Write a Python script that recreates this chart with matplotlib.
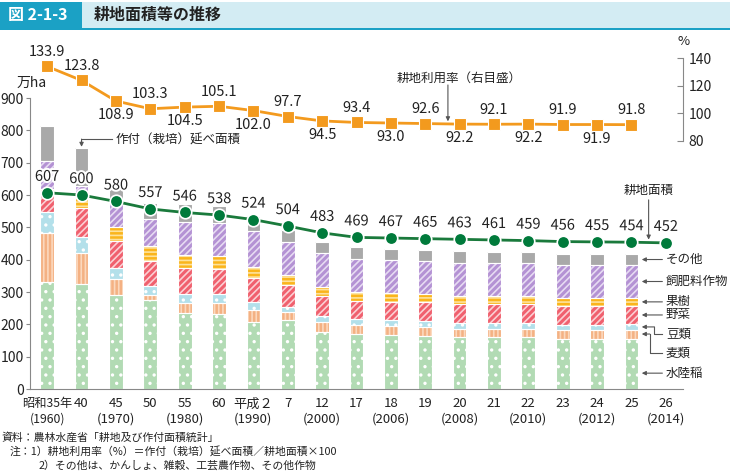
import matplotlib
matplotlib.use('Agg')
import matplotlib.pyplot as plt
import matplotlib.patheffects as pe
from matplotlib.patches import Rectangle
import numpy as np

plt.rcParams['font.family'] = ['Noto Sans CJK JP', 'DejaVu Sans']
plt.rcParams['hatch.linewidth'] = 1.2

# ---- data (万ha, %) ----
xlabels = ['昭和35年\n(1960)', '40', '45\n(1970)', '50', '55\n(1980)', '60',
           '平成２\n(1990)', '7', '12\n(2000)', '17', '18\n(2006)', '19',
           '20\n(2008)', '21', '22\n(2010)', '23', '24\n(2012)', '25', '26\n(2014)']

rice   = [330, 325, 290, 275, 235, 232, 207, 212, 176, 169, 166, 165, 160, 160, 160, 155, 156, 156]
wheat  = [153,  96,  50,  17,  31,  34,  37,  26,  30,  28,  29,  28,  27,  27,  27,  29,  28,  28]
beans  = [ 65,  49,  34,  26,  29,  28,  24,  15,  19,  20,  19,  18,  17,  17,  17,  15,  15,  16]
veg    = [ 55,  89,  85,  77,  78,  77,  76,  68,  62,  56,  56,  58,  59,  59,  59,  59,  59,  58]
fruit  = [ 17,  32,  43,  47,  40,  40,  34,  31,  29,  26,  27,  26,  26,  26,  24,  22,  22,  23]
feed   = [ 85,  36,  73,  85, 104, 103, 110, 102, 105, 104, 102, 101, 102, 101, 102, 105, 104, 103]
other  = [108, 117,  57,  48,  54,  51,  47,  38,  35,  35,  35,  35,  36,  35,  34,  34,  34,  33]

area  = [607, 600, 580, 557, 546, 538, 524, 504, 483, 469, 467, 465, 463, 461, 459, 456, 455, 454, 452]
ratio = [133.9, 123.8, 108.9, 103.3, 104.5, 105.1, 102.0, 97.7, 94.5, 93.4,
         93.0, 92.6, 92.2, 92.1, 92.2, 91.9, 91.9, 91.8]

seg_names = ['水陸稲', '麦類', '豆類', '野菜', '果樹', '飼肥料作物', 'その他']
seg_data = [rice, wheat, beans, veg, fruit, feed, other]
seg_colors = ['#b2dbb4', '#f4b183', '#b3e0ea', '#f0606e', '#fab51c', '#b492d4', '#a9a9a9']
seg_hatch = ['..', '||||', '..', '/////', '----', '/////', None]
seg_hcolor = ['white', '#fbd8bd', 'white', '#fbd0d4', '#fde29c', '#e6dbf2', 'white']

W, H = 730, 473
fig = plt.figure(figsize=(W / 100, H / 100), dpi=100)
txt = '#222222'

# header
fig.patches.append(Rectangle((0, 1 - 28 / H), 1, 26 / H, transform=fig.transFigure,
                             facecolor='#d3ecf3', edgecolor='none'))
fig.patches.append(Rectangle((0, 1 - 28 / H), 82 / W, 26 / H, transform=fig.transFigure,
                             facecolor='#1ba1c5', edgecolor='none'))
fig.patches.append(Rectangle((0, 1 - 30 / H), 1, 2 / H, transform=fig.transFigure,
                             facecolor='#1ba1c5', edgecolor='none'))
fig.text(8 / W, 1 - 15 / H, '図 2-1-3', color='white', fontsize=11.5, fontweight='bold', va='center')
fig.text(94 / W, 1 - 15 / H, '耕地面積等の推移', color=txt, fontsize=11.5, fontweight='bold', va='center')

ax_bottom, ax_top = 389, 40
ax = fig.add_axes([30 / W, 1 - ax_bottom / H, 653 / W, (ax_bottom - ax_top) / H])
ax2 = ax.twinx()

xb = np.arange(len(rice))
xa = np.arange(len(area))
xr = np.arange(len(ratio))

bottom = np.zeros(len(rice))
for vals, col, hat, hc in zip(seg_data, seg_colors, seg_hatch, seg_hcolor):
    v = np.array(vals, dtype=float)
    ax.bar(xb, v, 0.4, bottom=bottom, color=col, hatch=hat, edgecolor=hc, linewidth=0, zorder=2)
    ax.bar(xb, v, 0.4, bottom=bottom, color='none', edgecolor='white', linewidth=0.8, zorder=2.1)
    bottom += v

ax.set_ylim(0, (ax_bottom - ax_top) / 0.3233)
ax.set_xlim(-0.5, 18.5)
ax.set_yticks(range(0, 1000, 100))
ax.spines['left'].set_bounds(0, 900)
for s in ['top', 'right']:
    ax.spines[s].set_visible(False)
ax.spines['left'].set_color('#888888')
ax.spines['bottom'].set_color('#888888')
ax.tick_params(axis='y', colors='#888888', labelcolor=txt, labelsize=10, length=3, pad=1.5)
ax.set_xticks(xa)
ax.set_xticklabels(xlabels, fontsize=9.5, color=txt, linespacing=1.25)
ax.get_xticklabels()[0].set_fontsize(8.8)
ax.tick_params(axis='x', length=0, pad=6)
ax.text(-0.9, 925, '万ha', fontsize=10, ha='left', va='bottom', color=txt)

# 耕地面積 line
ax.plot(xa, area, color='#1a7a3c', lw=2, marker='o', ms=9, mfc='#007a3b',
        mec='white', mew=1.2, zorder=5, clip_on=False)
halo = [pe.withStroke(linewidth=3, foreground='white')]
for x, v in zip(xa, area):
    ax.annotate(str(v), (x, v), xytext=(0, 11.5), textcoords='offset points', ha='center',
                va='center', fontsize=10.5, color=txt, path_effects=halo, zorder=6)

# 耕地利用率 line (right axis)
ax2.set_ylim(80 - (ax_bottom - 141) / 1.383, 140 + (58 - ax_top) / 1.383)
ax2.plot(xr, ratio, color='#f39a1e', lw=2, marker='s', ms=8, mfc='#f39a1e',
         mec='white', mew=0.8, zorder=5)
for i, (x, v) in enumerate(zip(xr, ratio)):
    above = i in (0, 1, 3, 5, 7) or (i >= 9 and i % 2 == 1)
    ax2.annotate(f'{v:.1f}', (x, v), xytext=(0, 10.3 if above else -10.3), textcoords='offset points',
                 ha='center', va='center', fontsize=10.5, color=txt)
ax2.set_yticks([80, 100, 120, 140])
ax2.spines['right'].set_bounds(80, 140)
for s in ['top', 'left', 'bottom']:
    ax2.spines[s].set_visible(False)
ax2.spines['right'].set_color('#888888')
ax2.tick_params(axis='y', direction='in', length=4, colors='#888888', labelcolor=txt,
                labelsize=10, pad=4)
ax2.text(18.35, 147, '%', fontsize=9.5, ha='left', va='bottom', color=txt)

# annotations
gc = '#555555'
arrow = dict(arrowstyle='-|>', color=gc, lw=0.8, mutation_scale=6, shrinkA=0, shrinkB=0)
top1 = sum(s[1] for s in seg_data)
ax.plot([1.9, 1.0], [773, 773], color=gc, lw=0.8, zorder=4)
ax.annotate('', xy=(1.0, top1 + 5), xytext=(1.0, 773), arrowprops=arrow)
ax.text(1.98, 771, '作付（栽培）延べ面積', fontsize=9, va='center', ha='left', color=txt)

ax2.text(11.98, 125.5, '耕地利用率（右目盛）', fontsize=9, ha='center', va='center', color=txt)
ax2.annotate('', xy=(11.66, 94.2), xytext=(11.66, 120.5), arrowprops=arrow)

ax.text(17.5, 615, '耕地面積', fontsize=9, ha='center', va='center', color=txt)
ax.annotate('', xy=(17.5, 462), xytext=(17.5, 585), arrowprops=arrow)

# segment labels on the right
last = [s[-1] for s in seg_data]
cum = np.cumsum([0] + last)
mids = [(cum[i] + cum[i + 1]) / 2 for i in range(len(last))]
tip_x, tail_x, text_x = 17.3, 17.9, 18.0
label_y = [49, 111, 170, mids[3], mids[4], mids[5], mids[6]]
bend_x = {1: 17.53, 2: 17.67}
for i, name in enumerate(seg_names):
    if i in bend_x:
        bx = bend_x[i]
        ax.plot([tail_x, bx, bx], [label_y[i], label_y[i], mids[i]], color=gc, lw=0.8,
                clip_on=False, zorder=4)
        ax.annotate('', xy=(tip_x, mids[i]), xytext=(bx, mids[i]), arrowprops=arrow,
                    annotation_clip=False)
    else:
        y = label_y[i]
        ax.annotate('', xy=(tip_x, y), xytext=(tail_x, y), arrowprops=arrow, annotation_clip=False)
    ax.text(text_x, label_y[i], name, fontsize=9, ha='left', va='center', color=txt,
            clip_on=False)

# footnotes
fs = 7.8
fig.text(2 / W, 1 - 437 / H, '資料：農林水産省「耕地及び作付面積統計」', fontsize=fs, va='center', color=txt)
fig.text(10 / W, 1 - 451 / H, '注：1）耕地利用率（%）＝作付（栽培）延べ面積／耕地面積×100',
         fontsize=fs, va='center', color=txt)
fig.text(39 / W, 1 - 465 / H, '2）その他は、かんしょ、雑穀、工芸農作物、その他作物',
         fontsize=fs, va='center', color=txt)

fig.savefig('out.png', dpi=100)
